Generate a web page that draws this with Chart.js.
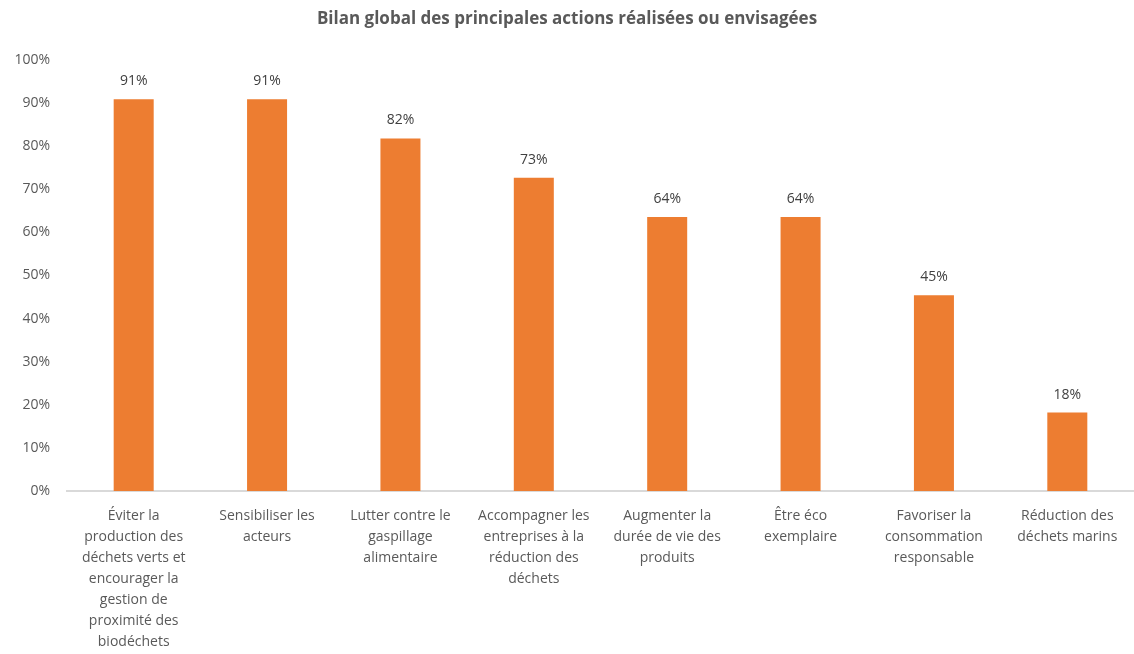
<!DOCTYPE html>
<html>
<head>
<meta charset="utf-8">
<script src="https://cdn.jsdelivr.net/npm/chart.js@4"></script>
<style>
  html, body { margin: 0; padding: 0; background: #fff; overflow: hidden; }
  #wrap { width: 1134px; height: 668px; position: relative; }
</style>
</head>
<body>
<div id="wrap"><canvas id="bilanChart"></canvas></div>
<script>
const categories = [
  ['Éviter la', 'production des', 'déchets verts et', 'encourager la', 'gestion de', 'proximité des', 'biodéchets'],
  ['Sensibiliser les', 'acteurs'],
  ['Lutter contre le', 'gaspillage', 'alimentaire'],
  ['Accompagner les', 'entreprises à la', 'réduction des', 'déchets'],
  ['Augmenter la', 'durée de vie des', 'produits'],
  ['Être éco', 'exemplaire'],
  ['Favoriser la', 'consommation', 'responsable'],
  ['Réduction des', 'déchets marins']
];
const values = [90.9, 90.9, 81.8, 72.7, 63.6, 63.6, 45.4, 18.2];
const yTicks = [0, 10, 20, 30, 40, 50, 60, 70, 80, 90, 100];

const FONT = '"Open Sans", Lato, sans-serif';

// labels au-dessus des barres
const barLabels = {
  id: 'barLabels',
  afterDatasetsDraw(chart) {
    const ctx = chart.ctx;
    const meta = chart.getDatasetMeta(0);
    ctx.save();
    ctx.font = '14px ' + FONT;
    ctx.fillStyle = '#404040';
    ctx.textAlign = 'center';
    ctx.textBaseline = 'bottom';
    meta.data.forEach((bar, i) => {
      ctx.fillText(Math.round(values[i]) + '%', bar.x, bar.y - 11);
    });
    ctx.restore();
  }
};

new Chart(document.getElementById('bilanChart'), {
  type: 'bar',
  data: {
    labels: categories,
    datasets: [{
      data: values,
      backgroundColor: '#ED7D31',
      barPercentage: 0.3,
      categoryPercentage: 1
    }]
  },
  options: {
    responsive: true,
    maintainAspectRatio: false,
    animation: false,
    layout: { padding: 0 },
    plugins: {
      legend: { display: false },
      tooltip: { enabled: false },
      title: {
        display: true,
        text: 'Bilan global des principales actions réalisées ou envisagées',
        color: '#595959',
        font: { family: FONT, size: 17, weight: 'bold' },
        padding: { top: 9, bottom: 30.6 }
      }
    },
    scales: {
      x: {
        grid: { display: false, drawTicks: false },
        border: { display: true, color: '#d9d9d9', width: 2 },
        ticks: {
          color: '#595959',
          font: { family: FONT, size: 14, lineHeight: 1.5 },
          padding: 15,
          maxRotation: 0,
          autoSkip: false
        }
      },
      y: {
        min: 0,
        max: 100,
        afterFit(scale) { scale.width = 67; },
        afterBuildTicks(scale) { scale.ticks = yTicks.map(v => ({ value: v })); },
        grid: { display: false, drawTicks: false },
        border: { display: false },
        ticks: {
          color: '#595959',
          font: { family: FONT, size: 14 },
          padding: 17,
          callback: v => v + '%'
        }
      }
    }
  },
  plugins: [barLabels]
});
</script>
</body>
</html>
